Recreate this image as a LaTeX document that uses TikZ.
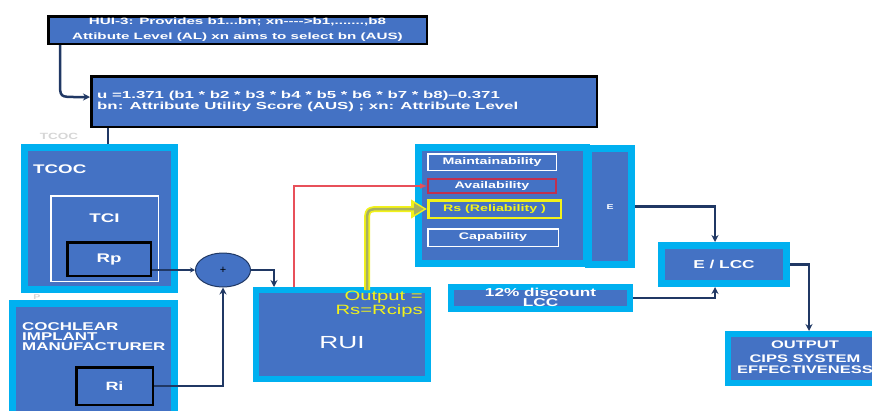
\documentclass[tikz,border=0pt]{standalone}
\usepackage{fontspec}
\setmainfont{Liberation Sans}
\usepackage{graphicx}
\usetikzlibrary{arrows.meta,calc,shapes.geometric}
\definecolor{boxblue}{HTML}{4472C4}
\definecolor{frame}{HTML}{00B0F0}
\definecolor{wire}{HTML}{203864}
\definecolor{redwire}{HTML}{E8505A}
\definecolor{crimson}{HTML}{C0304F}
\definecolor{yel}{HTML}{F2F21A}
\definecolor{olivefill}{HTML}{A8B060}
\definecolor{ghost}{HTML}{D6D6D6}
% wide lettering used throughout the chart
\newcommand{\wx}[1]{\scalebox{1.5}[1]{#1}}
\newcommand{\wxx}[1]{\scalebox{1.65}[1]{#1}}
\newcommand{\fs}[2]{\fontsize{#1}{#2}\selectfont}

\begin{document}
\begin{tikzpicture}[x=1pt,y=-1pt,
  blackbox/.style={fill=boxblue, draw=black, line width=2.5pt, inner sep=0pt},
  cyanbox/.style={fill=boxblue, draw=frame, line width=7pt, inner sep=0pt},
  whitebox/.style={fill=boxblue, draw=white, line width=1.5pt, inner sep=0pt},
  lbl/.style={text=white, inner sep=0pt},
  conn/.style={draw=wire, line width=2.5pt, -{Stealth[length=7pt,width=7pt]}}]

\useasboundingbox (0,0) rectangle (872,410);
\clip (0,0) rectangle (872,410);

% ---- top: HUI-3 and utility formula
\node[blackbox, minimum width=378.5pt, minimum height=27.5pt, text=white, align=center,
      font=\fs{9.2}{15}\bfseries] (hui) at (237.5,30)
  {\wxx{HUI-3: Provides b1...bn; xn-{}-{}-{}->b1,.......,b8}\\\wxx{Attibute Level (AL) xn aims to select bn (AUS)}};
\node[blackbox, minimum width=505.5pt, minimum height=50.5pt] (formula) at (344,101.5) {};
\node[lbl, anchor=west, align=left, font=\fs{10.2}{11.5}\bfseries] (formtext) at (97,101.5)
  {\wxx{u =1.371 (b1 * b2 * b3 * b4 * b5 * b6 * b7 * b8)--0.371}\\\wxx{bn: Attribute Utility Score (AUS) ; xn: Attribute Level}};

% ---- left column
\node[text=ghost, font=\fs{9}{10}\bfseries, inner sep=0pt] (ghosta) at (59,136) {\wx{TCOC}};
\node[cyanbox, minimum width=150pt, minimum height=142pt] (tcoc) at (99.5,218.5) {};
\node[lbl, anchor=west, font=\fs{12.5}{14}\bfseries] (tcoclbl) at ($(tcoc.north west)+(12,25)$) {\wx{TCOC}};
\node[whitebox, minimum width=107.5pt, minimum height=85.5pt] (tci) at (104.5,238.5) {};
\node[lbl, font=\fs{12.5}{14}\bfseries] (tcilbl) at ($(tci.north)+(0,23)$) {\wx{TCI}};
\node[blackbox, minimum width=83.5pt, minimum height=33.5pt, text=white, font=\fs{12.5}{14}\bfseries] (rp) at (109,259) {\wx{Rp}};

\node[text=ghost, font=\fs{7}{8}\bfseries, inner sep=0pt] (ghostb) at (37,297) {\wx{P}};
\node[cyanbox, minimum width=162pt, minimum height=118pt] (cim) at (93.5,362.5) {};
\node[lbl, anchor=north west, align=left, font=\fs{11.3}{10}\bfseries] (cimlbl) at ($(cim.north west)+(13,22)$)
  {\wx{COCHLEAR}\\\wx{IMPLANT}\\\wx{MANUFACTURER}};
\node[blackbox, minimum width=76.5pt, minimum height=37.5pt, text=white, font=\fs{12}{14}\bfseries] (ri) at (114.5,386) {\wx{Ri}};

% ---- summing junction and RUI
\node[ellipse, draw=wire, line width=1pt, fill=boxblue, minimum width=55pt, minimum height=34pt,
      inner sep=0pt, font=\fs{11}{11}] (plus) at (223,270) {+};
\node[cyanbox, line width=6pt, minimum width=172pt, minimum height=89pt] (rui) at (342,334.5) {};
\node[lbl, font=\fs{17.5}{20}] (ruilbl) at (342,343) {\wx{RUI}};
\node[text=yel, inner sep=0pt, anchor=north east, align=right, font=\fs{13.5}{12}] (outeq)
  at ($(rui.north east)+(-8,4)$) {\wx{Output =}\\\wx{Rs=Rcips}};

% ---- effectiveness attributes
\node[cyanbox, minimum width=168pt, minimum height=116pt] (attr) at (502.5,205.5) {};
\node[cyanbox, minimum width=43pt, minimum height=116pt] (estrip) at (610,206.5) {};
\node[lbl, font=\fs{7}{8}\bfseries] (elbl) at (610,207) {\wx{E}};
\node[whitebox, minimum width=128.5pt, minimum height=16.5pt, text=white, font=\fs{9.5}{10}\bfseries] (maint) at (492,162) {\wx{Maintainability}};
\node[fill=boxblue, draw=crimson, line width=2pt, inner sep=0pt, minimum width=128pt, minimum height=14pt,
      text=white, font=\fs{9.5}{10}\bfseries] (avail) at (492,186) {\wx{Availability}};
\node[fill=boxblue, draw=yel, line width=2.5pt, inner sep=0pt, minimum width=132.5pt, minimum height=17.5pt,
      text=yel, font=\fs{9.5}{10}\bfseries] (rs) at (494.5,209) {\wx{Rs (Reliability )}};
\node[whitebox, minimum width=130.5pt, minimum height=17.5pt, text=white, font=\fs{9.5}{10}\bfseries] (capab) at (493,237.5) {\wx{Capability}};

% ---- cost side and output
\node[cyanbox, minimum width=125pt, minimum height=38pt, text=white, font=\fs{11.5}{12}\bfseries] (elcc) at (724,264.5) {\wx{E / LCC}};
\node[cyanbox, line width=6pt, minimum width=179pt, minimum height=22pt] (disc) at (540.5,298) {};
\node[lbl, align=center, font=\fs{11.5}{10}\bfseries] (disclbl) at (540.5,297) {\wx{12\% discount}\\\wx{LCC}};
\node[cyanbox, line width=6pt, minimum width=154pt, minimum height=49pt] (output) at (805,358.5) {};
\node[lbl, font=\fs{11}{11}\bfseries] (outlbl) at (805,345) {\wx{OUTPUT}};
\node[lbl, align=center, font=\fs{11}{11}\bfseries] (outsub) at (805,364.5) {\wx{CIPS SYSTEM}\\\wx{EFFECTIVENESS}};

% ---- connectors
\coordinate (hk) at (formula.west |- 0,97);
\draw[conn] ($(hui.south west)+(13,0)$) -- ($(hui.south west)+(13,37)$)
  .. controls ($(hui.south west)+(13,52)$) .. ($(hk)+(-14,0)$) -- (hk);
\draw[draw=wire, line width=2.5pt] ($(formula.south west)+(18,0)$) -- ($(tcoc.north west)+(87,0)$);
\draw[conn, -{Stealth[length=5pt,width=5pt]}] (rp.east |- 0,270) -- (plus.west);
\draw[conn] (plus.east) -| ($(rui.north west)+(21,0)$);
\draw[conn] (ri.east) -| (plus.south);
\draw[draw=redwire, line width=1.8pt, -{Latex[length=7pt,width=6pt]}] ($(rui.north west)+(41,0)$) |- (avail.west);

\coordinate (ys) at ($(rui.north west)+(114,3)$);
\draw[yel, line width=6pt, -{Triangle[length=16pt,width=18pt]}] (ys) -- (ys |- 0,224)
  .. controls (ys |- rs.west) .. ($(ys |- rs.west)+(16,0)$) -- (rs.west);
\draw[olivefill, line width=2.5pt, shorten >=3pt, -{Triangle[length=10pt,width=11pt]}] (ys) -- (ys |- 0,224)
  .. controls (ys |- rs.west) .. ($(ys |- rs.west)+(16,0)$) -- (rs.west);

\draw[conn] (estrip.east) -| ($(elcc.north)+(-9,0)$);
\draw[conn] (disc.east) -| ($(elcc.south)+(-9,0)$);
\draw[conn] (elcc.east) -| ($(output.north)+(4,0)$);
\end{tikzpicture}
\end{document}
